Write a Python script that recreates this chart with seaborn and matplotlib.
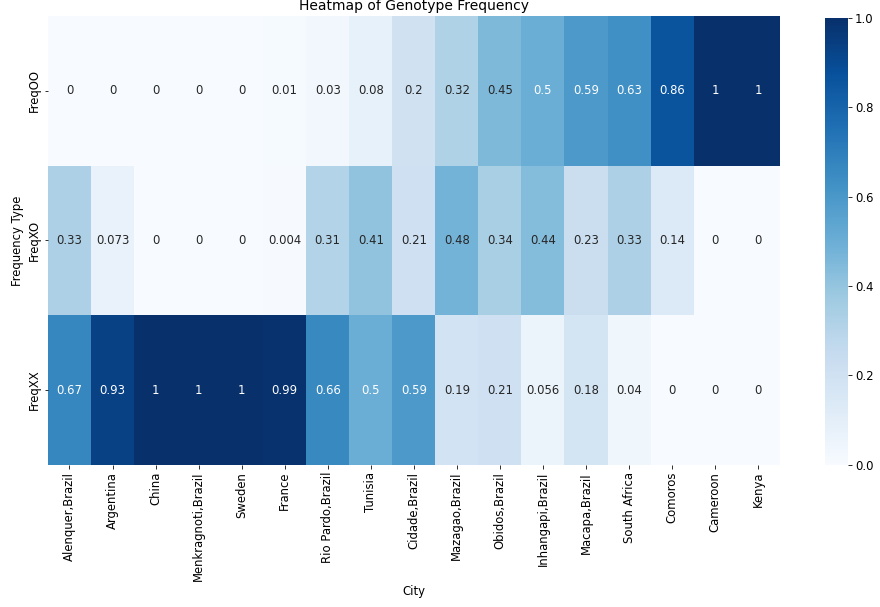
import matplotlib
matplotlib.use("Agg")
import matplotlib.pyplot as plt
import seaborn as sns
import pandas as pd
import numpy as np

cities = ["Alenquer,Brazil", "Argentina", "China", "Menkragnoti,Brazil", "Sweden",
          "France", "Rio Pardo,Brazil", "Tunisia", "Cidade,Brazil", "Mazagao,Brazil",
          "Obidos,Brazil", "Inhangapi,Brazil", "Macapa,Brazil", "South Africa",
          "Comoros", "Cameroon", "Kenya"]
freq_types = ["FreqOO", "FreqXO", "FreqXX"]

freq_oo = [0, 0, 0, 0, 0, 0.01, 0.03, 0.08, 0.2, 0.32, 0.45, 0.5, 0.59, 0.63, 0.86, 1, 1]
freq_xo = [0.33, 0.073, 0, 0, 0, 0.004, 0.31, 0.41, 0.21, 0.48, 0.34, 0.44, 0.23, 0.33, 0.14, 0, 0]
freq_xx = [0.67, 0.93, 1, 1, 1, 0.99, 0.66, 0.5, 0.59, 0.19, 0.21, 0.056, 0.18, 0.04, 0, 0, 0]

df = pd.DataFrame([freq_oo, freq_xo, freq_xx], index=freq_types, columns=cities)

fs = 11.6
fig = plt.figure(figsize=(880 / 72, 607 / 72), dpi=72)
ax = fig.add_axes([0.0545, 0.234, 0.8315, 0.74])
cax = fig.add_axes([0.9375, 0.234, 0.026, 0.737])

sns.heatmap(df, annot=True, cmap="Blues", ax=ax, cbar_ax=cax,
            annot_kws={"fontsize": fs})
ax.set_title("Heatmap of Genotype Frequency", fontsize=13.9)
ax.set_xlabel("City", fontsize=fs)
ax.set_ylabel("Frequency Type", fontsize=fs)
ax.tick_params(labelsize=fs)
plt.setp(ax.get_xticklabels(), rotation=90)
cax.tick_params(labelsize=fs)

fig.savefig("out.png", dpi=72)
